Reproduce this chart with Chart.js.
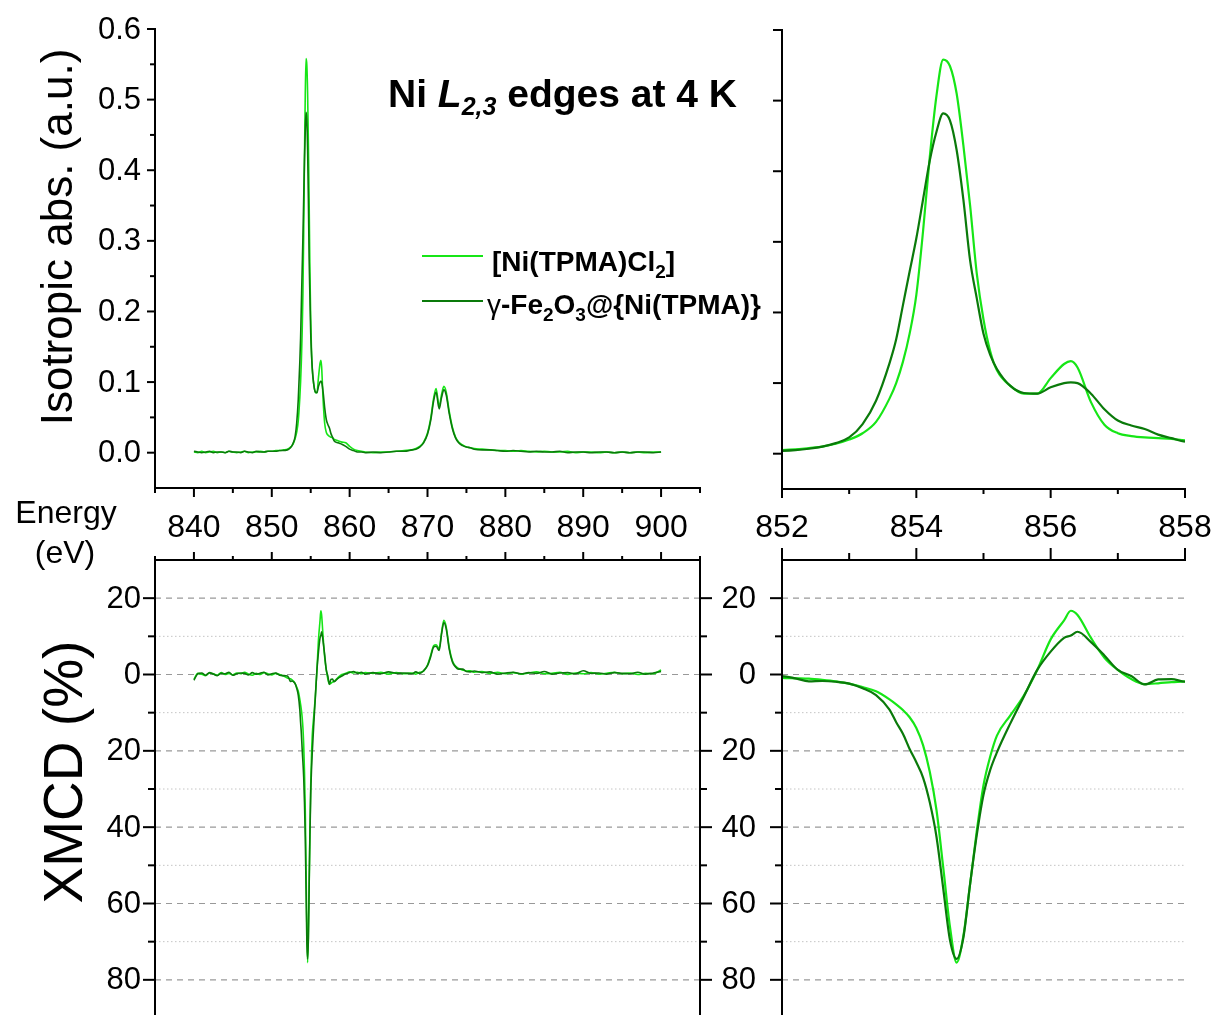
<!DOCTYPE html>
<html>
<head>
<meta charset="utf-8">
<script src="https://cdn.jsdelivr.net/npm/chart.js@4/dist/chart.umd.min.js"></script>
<style>
html, body { margin: 0; padding: 0; width: 1220px; height: 1015px; overflow: hidden; background: #fff; }
canvas { position: absolute; left: 0; top: 0; }
</style>
</head>
<body>
<canvas id="isoWide" width="1220" height="1030"></canvas>
<canvas id="isoZoom" width="1220" height="1030"></canvas>
<canvas id="xmcdWide" width="1220" height="1030"></canvas>
<canvas id="xmcdZoom" width="1220" height="1030"></canvas>
<script>
// photon energy (eV), shared by all four series
const energy = [
  840, 840.5, 841, 841.5, 842, 842.5, 843, 843.5, 844, 844.5, 845, 845.5,
  846, 846.5, 847, 847.5, 848, 848.5, 849, 849.5, 850, 850.5, 851, 851.5,
  852, 852.2, 852.4, 852.6, 852.8, 853, 853.2, 853.4,
  853.6, 853.7, 853.8, 853.9, 854, 854.1, 854.2, 854.3, 854.4, 854.5, 854.6, 854.7, 854.8, 854.9, 855, 855.1, 855.2,
  855.4, 855.6, 855.8, 856, 856.2, 856.3, 856.4, 856.6, 856.8, 857, 857.2, 857.4, 857.6, 857.8, 858,
  858.5, 859, 859.5, 860, 860.5, 861, 861.5, 862,
  863, 864, 865, 866, 867,
  868, 868.5, 869, 869.5, 870, 870.4, 870.8, 871.1, 871.5, 871.8, 872.1, 872.4, 872.8, 873.2, 873.6, 874, 874.5, 875, 875.5, 876,
  877, 878, 879, 880, 881, 882, 883, 884, 885, 886, 887, 888,
  889, 890, 891, 892, 893, 894, 895, 896, 897, 898, 899, 900
];

// isotropic absorption, [Ni(TPMA)Cl2]
const isoCl = [
  0.001, 0.000, 0.002, 0.000, 0.001, 0.002, 0.000, 0.001, 0.000, 0.002, 0.001, 0.000,
  0.001, 0.002, 0.000, 0.001, 0.001, 0.002, 0.001, 0.002, 0.002, 0.003, 0.003, 0.004,
  0.005, 0.006, 0.008, 0.010, 0.014, 0.020, 0.029, 0.045,
  0.078, 0.100, 0.130, 0.170, 0.225, 0.315, 0.420, 0.507, 0.558, 0.549, 0.510, 0.437, 0.352, 0.255, 0.190, 0.145, 0.118,
  0.096, 0.085, 0.085, 0.107, 0.127, 0.131, 0.122, 0.073, 0.041, 0.029, 0.025, 0.023, 0.022, 0.021, 0.019,
  0.017, 0.015, 0.014, 0.009, 0.005, 0.003, 0.002, 0.001,
  0.000, 0.001, 0.001, 0.002, 0.003,
  0.004, 0.006, 0.009, 0.015, 0.028, 0.048, 0.078, 0.091, 0.066, 0.082, 0.094, 0.086, 0.058, 0.036, 0.022, 0.015, 0.011, 0.008, 0.007, 0.006,
  0.005, 0.004, 0.003, 0.003, 0.002, 0.003, 0.002, 0.001, 0.002, 0.001, 0.001, 0.002,
  0.000, 0.001, 0.001, 0.000, 0.001, 0.000, 0.001, 0.000, 0.001, 0.000, 0.001, 0.001
];

// isotropic absorption, γ-Fe2O3@{Ni(TPMA)}
const isoFe = [
  0.002, 0.001, 0.000, 0.001, 0.002, 0.000, 0.001, 0.001, 0.000, 0.002, 0.001, 0.001,
  0.000, 0.002, 0.001, 0.000, 0.002, 0.001, 0.001, 0.002, 0.002, 0.002, 0.003, 0.003,
  0.004, 0.005, 0.007, 0.010, 0.015, 0.023, 0.042, 0.075,
  0.128, 0.162, 0.210, 0.258, 0.305, 0.360, 0.415, 0.456, 0.482, 0.472, 0.430, 0.360, 0.274, 0.220, 0.170, 0.140, 0.120,
  0.096, 0.086, 0.085, 0.094, 0.100, 0.101, 0.100, 0.085, 0.063, 0.047, 0.040, 0.035, 0.027, 0.022, 0.017,
  0.014, 0.012, 0.009, 0.005, 0.003, 0.001, 0.001, 0.000,
  0.001, 0.000, 0.001, 0.002, 0.002,
  0.004, 0.005, 0.008, 0.014, 0.026, 0.045, 0.074, 0.086, 0.062, 0.078, 0.089, 0.082, 0.055, 0.034, 0.021, 0.014, 0.010, 0.008, 0.007, 0.005,
  0.004, 0.004, 0.003, 0.002, 0.003, 0.002, 0.001, 0.002, 0.001, 0.001, 0.002, 0.000,
  0.001, 0.001, 0.000, 0.001, 0.001, 0.000, 0.001, 0.000, 0.001, 0.001, 0.000, 0.001
];

// XMCD (%), [Ni(TPMA)Cl2]
const xmcdCl = [
  -1.2, 0.3, 0.1, -0.3, 0.4, 0.2, -0.2, 0.5, 0.0, 0.3, -0.1, 0.4,
  0.2, 0.6, 0.1, -0.2, 0.3, 0.0, 0.5, 0.2, -0.1, 0.3, 0.0, -0.4,
  -0.9, -1.0, -1.1, -1.4, -1.8, -2.4, -3.3, -4.4,
  -6.5, -7.8, -9.3, -11.2, -14.0, -18.5, -25.5, -35.5, -50.5, -66.0, -75.5, -68.5, -55.0, -41.0, -29.0, -21.5, -16.0,
  -10.7, -5.5, 1.2, 9.2, 14.2, 16.7, 15.6, 9.6, 4.4, 1.2, -1.2, -2.5, -2.3, -2.0, -1.8,
  -0.8, 0.0, 0.3, 0.7, 0.4, 0.6, 0.2, 0.5,
  0.3, 0.6, 0.1, 0.5, 0.2,
  0.4, 0.1, 0.6, 0.9, 2.5, 5.0, 7.6, 7.8, 6.8, 11.0, 14.2, 12.5, 7.0, 3.6, 2.2, 1.6, 1.2, 0.9, 1.0, 0.6,
  0.8, 0.3, 0.6, 0.2, 0.5, 0.1, 0.4, 0.7, 0.2, 0.3, 0.6, 0.0,
  0.4, 0.2, 0.5, 0.1, 0.3, 0.6, 0.2, 0.4, 0.0, 0.3, 0.2, 1.2
];

// XMCD (%), γ-Fe2O3@{Ni(TPMA)}
const xmcdFe = [
  -1.5, 0.2, 0.4, -0.2, 0.5, 0.1, -0.3, 0.3, 0.2, 0.6, -0.2, 0.2,
  0.4, 0.3, -0.1, 0.5, 0.1, 0.3, 0.6, -0.1, 0.2, 0.4, -0.2, -0.3,
  -0.4, -1.0, -1.8, -1.7, -1.9, -2.4, -3.6, -5.4,
  -9.2, -12.5, -15.5, -19.5, -23.0, -27.0, -33.5, -42.5, -56.0, -69.5, -74.5, -69.0, -55.0, -42.0, -31.5, -25.0, -20.4,
  -12.8, -5.8, 1.2, 6.0, 9.6, 10.2, 11.2, 8.5, 5.0, 1.2, -0.4, -2.6, -1.3, -1.2, -1.9,
  -1.0, -0.4, 0.2, 0.5, 0.8, 0.3, 0.6, 0.1,
  0.5, 0.2, 0.7, 0.3, 0.4,
  0.2, 0.7, 0.3, 1.0, 2.3, 4.6, 7.2, 7.4, 6.3, 10.5, 13.6, 12.0, 6.5, 3.3, 2.0, 1.4, 1.4, 0.8, 0.7, 0.9,
  0.5, 0.7, 0.1, 0.4, 0.6, 0.2, 0.5, 0.3, 0.8, 0.1, 0.4, 0.5,
  0.2, 1.0, 0.3, 0.4, 0.1, 0.5, 0.3, 0.2, 0.6, 0.1, 0.4, 0.8
];

// ticks
const wideTicks = [840, 850, 860, 870, 880, 890, 900];
const wideMinor = [835, 845, 855, 865, 875, 885, 895, 905];
const zoomTicks = [852, 854, 856, 858];
const zoomMinor = [853, 855, 857];
const isoTicks = [0, 0.1, 0.2, 0.3, 0.4, 0.5, 0.6];
const isoTickLabels = ['0.0', '0.1', '0.2', '0.3', '0.4', '0.5', '0.6'];
const isoMinor = [0.05, 0.15, 0.25, 0.35, 0.45, 0.55];
const xmcdTicks = [20, 0, -20, -40, -60, -80];
const xmcdTickLabels = ['20', '0', '20', '40', '60', '80'];
const xmcdMinor = [10, -10, -30, -50, -70];

const LIGHT = '#16e616';
const DARK = '#0a7a0a';
const FONT = "'Liberation Sans', Arial, sans-serif";
const CANVAS_W = 1220, CANVAS_H = 1030;

// frame (axes, ticks, grid) per canvas
const frames = {
  isoWide: {
    left: { major: isoTicks, minor: isoMinor, majorLen: 8, minorLen: 5, labels: isoTickLabels, at: 141, font: '31px ' + FONT },
    bottom: { major: wideTicks, minor: wideMinor, majorLen: 9, minorLen: 5, labels: wideTicks.map(String), at: 537, font: '32px ' + FONT }
  },
  isoZoom: {
    left: { major: isoTicks, majorLen: 9, minorLen: 5 },
    bottom: { major: zoomTicks, minor: zoomMinor, majorLen: 9, minorLen: 5, labels: zoomTicks.map(String), at: 537, font: '32px ' + FONT }
  },
  xmcdWide: {
    grid: { major: xmcdTicks, minor: xmcdMinor },
    left: { major: xmcdTicks, minor: xmcdMinor, majorLen: 12, minorLen: 7, labels: xmcdTickLabels, at: 141, font: '31px ' + FONT },
    right: { major: xmcdTicks, minor: xmcdMinor, majorLen: 12, minorLen: 7 },
    top: { major: wideTicks, minor: wideMinor, majorLen: 8, minorLen: 4 }
  },
  xmcdZoom: {
    grid: { major: xmcdTicks, minor: xmcdMinor },
    left: { major: xmcdTicks, minor: xmcdMinor, majorLen: 12, minorLen: 7, labels: xmcdTickLabels, at: 756, font: '31px ' + FONT },
    top: { major: zoomTicks, minor: zoomMinor, majorLen: 12, minorLen: 7 }
  }
};

function drawSide(chart, side, s) {
    const ctx = chart.ctx, a = chart.chartArea;
    const horiz = side === 'top' || side === 'bottom';
    const scale = horiz ? chart.scales.x : chart.scales.y;
    const pos = { left: a.left, right: a.right, top: a.top, bottom: a.bottom }[side];
    const dir = (side === 'left' || side === 'top') ? -1 : 1;
    ctx.save();
    ctx.strokeStyle = '#000';
    ctx.lineWidth = 2;
    ctx.beginPath();
    if (horiz) { ctx.moveTo(a.left - 1, pos); ctx.lineTo(a.right + 1, pos); }
    else { ctx.moveTo(pos, a.top - 1); ctx.lineTo(pos, a.bottom + 1); }
    ctx.stroke();
    const tick = (v, len) => {
        const p = scale.getPixelForValue(v);
        ctx.beginPath();
        if (horiz) { ctx.moveTo(p, pos); ctx.lineTo(p, pos + dir * len); }
        else { ctx.moveTo(pos, p); ctx.lineTo(pos + dir * len, p); }
        ctx.stroke();
    };
    s.major.forEach(v => tick(v, s.majorLen));
    (s.minor || []).forEach(v => tick(v, s.minorLen));
    if (s.labels) {
        ctx.fillStyle = '#000';
        ctx.font = s.font;
        s.labels.forEach((t, i) => {
            const p = scale.getPixelForValue(s.major[i]);
            if (horiz) { ctx.textAlign = 'center'; ctx.textBaseline = 'alphabetic'; ctx.fillText(t, p, s.at); }
            else { ctx.textAlign = 'right'; ctx.textBaseline = 'middle'; ctx.fillText(t, s.at, p + 1); }
        });
    }
    ctx.restore();
}

const framePlugin = {
    id: 'frame',
    beforeDatasetsDraw(chart) {
        const f = frames[chart.canvas.id];
        if (!f.grid) return;
        const ctx = chart.ctx, a = chart.chartArea, y = chart.scales.y;
        ctx.save();
        ctx.lineWidth = 1.2;
        ctx.strokeStyle = '#999';
        ctx.setLineDash([6, 5]);
        f.grid.major.forEach(v => {
            const p = y.getPixelForValue(v);
            ctx.beginPath(); ctx.moveTo(a.left, p); ctx.lineTo(a.right, p); ctx.stroke();
        });
        ctx.lineWidth = 1;
        ctx.strokeStyle = '#c4c4c4';
        ctx.setLineDash([1.5, 2.5]);
        f.grid.minor.forEach(v => {
            const p = y.getPixelForValue(v);
            ctx.beginPath(); ctx.moveTo(a.left, p); ctx.lineTo(a.right, p); ctx.stroke();
        });
        ctx.restore();
    },
    afterDatasetsDraw(chart) {
        const f = frames[chart.canvas.id];
        ['left', 'right', 'top', 'bottom'].forEach(side => { if (f[side]) drawSide(chart, side, f[side]); });
    }
};

function drawRuns(ctx, x, y, runs) {
    runs.forEach(r => {
        ctx.font = r.font;
        ctx.fillText(r.t, x, y + (r.dy || 0));
        x += ctx.measureText(r.t).width;
    });
}

// title, legend and axis titles
const textPlugin = {
    id: 'texts',
    afterDraw(chart) {
        const ctx = chart.ctx;
        ctx.save();
        ctx.fillStyle = '#000';
        ctx.textAlign = 'left';
        ctx.textBaseline = 'alphabetic';
        drawRuns(ctx, 388, 107, [
            { t: 'Ni ', font: 'bold 39px ' + FONT },
            { t: 'L', font: 'italic bold 39px ' + FONT },
            { t: '2,3', font: 'italic bold 25px ' + FONT, dy: 8 },
            { t: ' edges at 4 K', font: 'bold 39px ' + FONT }
        ]);
        drawRuns(ctx, 492, 271, [
            { t: '[Ni(TPMA)Cl', font: 'bold 28px ' + FONT },
            { t: '2', font: 'bold 19px ' + FONT, dy: 7 },
            { t: ']', font: 'bold 28px ' + FONT }
        ]);
        drawRuns(ctx, 487, 314, [
            { t: 'γ', font: '28px ' + FONT },
            { t: '-Fe', font: 'bold 28px ' + FONT },
            { t: '2', font: 'bold 19px ' + FONT, dy: 7 },
            { t: 'O', font: 'bold 28px ' + FONT },
            { t: '3', font: 'bold 19px ' + FONT, dy: 7 },
            { t: '@{Ni(TPMA)}', font: 'bold 28px ' + FONT }
        ]);
        ctx.lineWidth = 1.8;
        ctx.strokeStyle = LIGHT;
        ctx.beginPath(); ctx.moveTo(422, 256); ctx.lineTo(483, 256); ctx.stroke();
        ctx.strokeStyle = DARK;
        ctx.beginPath(); ctx.moveTo(422, 301); ctx.lineTo(483, 301); ctx.stroke();

        ctx.textAlign = 'center';
        ctx.font = '32px ' + FONT;
        ctx.fillText('Energy', 66, 523);
        ctx.fillText('(eV)', 65, 563);

        ctx.save();
        ctx.translate(72, 237);
        ctx.rotate(-Math.PI / 2);
        ctx.font = '44px ' + FONT;
        ctx.fillText('Isotropic abs. (a.u.)', 0, 0);
        ctx.restore();

        ctx.save();
        ctx.translate(82, 772);
        ctx.rotate(-Math.PI / 2);
        ctx.font = '55px ' + FONT;
        ctx.fillText('XMCD (%)', 0, 0);
        ctx.restore();
        ctx.restore();
    }
};

function series(values, color, width, order) {
    return {
        data: energy.map((e, i) => ({ x: e, y: values[i] })),
        borderColor: color,
        borderWidth: width,
        pointRadius: 0,
        cubicInterpolationMode: 'monotone',
        order: order
    };
}

function makeChart(id, area, xRange, yRange, a, b, width, extra) {
    return new Chart(document.getElementById(id), {
        type: 'line',
        data: { datasets: [series(a, LIGHT, width, 2), series(b, DARK, width, 1)] },
        options: {
            responsive: false,
            animation: false,
            devicePixelRatio: 1,
            events: [],
            layout: { padding: { left: area[0], top: area[1], right: CANVAS_W - area[2], bottom: CANVAS_H - area[3] } },
            scales: {
                x: { type: 'linear', min: xRange[0], max: xRange[1], display: false },
                y: { type: 'linear', min: yRange[0], max: yRange[1], display: false }
            },
            plugins: { legend: { display: false }, tooltip: { enabled: false } }
        },
        plugins: [framePlugin].concat(extra || [])
    });
}

makeChart('isoWide', [155, 29, 700, 488], [835, 905], [-0.05, 0.6], isoCl, isoFe, 1.6, [textPlugin]);
makeChart('isoZoom', [782, 30, 1185, 489], [852, 858], [-0.05, 0.6], isoCl, isoFe, 2.2);
makeChart('xmcdWide', [155, 560, 700, 1018], [835, 905], [-90, 30], xmcdCl, xmcdFe, 1.6);
makeChart('xmcdZoom', [782, 560, 1185, 1018], [852, 858], [-90, 30], xmcdCl, xmcdFe, 2.2);
</script>
</body>
</html>
